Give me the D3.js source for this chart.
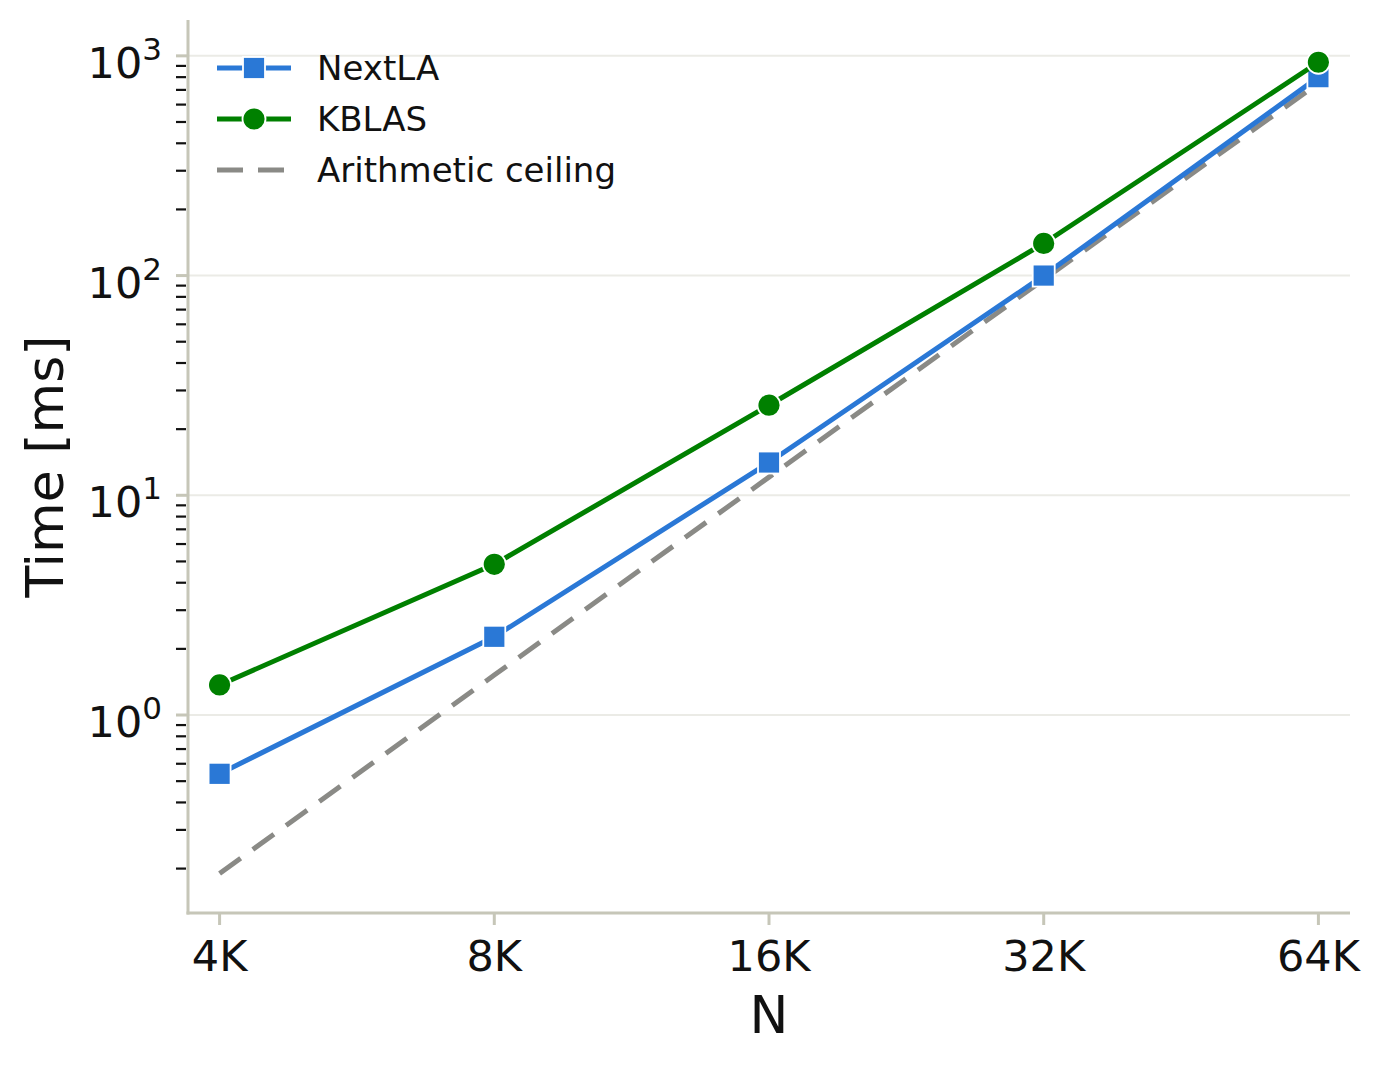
<!DOCTYPE html>
<html>
<head>
<meta charset="utf-8">
<script src="https://cdn.jsdelivr.net/npm/d3@7"></script>
<style>
  html, body { margin: 0; padding: 0; background: #fff; }
  svg { display: block; font-family: "DejaVu Sans", sans-serif; }
</style>
</head>
<body>
<div id="chart"></div>
<script>
// ── Data ──────────────────────────────────────────────────
const sizes     = ["4K", "8K", "16K", "32K", "64K"];
const nextla    = [0.54, 2.27, 14.1, 100, 800];
const kblas     = [1.37, 4.85, 25.7, 140, 935];
const ceiling   = [0.19, 1.52, 12.1, 96, 750];
const yDecades  = [0, 1, 2, 3];

const series = [
  { name: "Arithmetic ceiling", values: ceiling, color: "#8a8a86", dash: "26,15", marker: null },
  { name: "NextLA",             values: nextla,  color: "#2a78d6", dash: null,    marker: "square" },
  { name: "KBLAS",              values: kblas,   color: "#008000", dash: null,    marker: "circle" },
];
const legendOrder = ["NextLA", "KBLAS", "Arithmetic ceiling"];

// ── Layout ────────────────────────────────────────────────
const W = 1383, H = 1069;
const PLOT = { left: 188, right: 1350, top: 20, bottom: 913 };
const SPINE = "#c6c6b8";
const GRID  = "#ebebe6";
const LW    = 5;

const x = d3.scalePoint().domain(sizes).range([PLOT.left, PLOT.right]).padding(0.115);
const y = d3.scaleLog().domain([0.1269, 1456]).range([PLOT.bottom - 1, PLOT.top]);

const svg = d3.select("#chart").append("svg").attr("width", W).attr("height", H);

// Grid lines at decades
svg.append("g").selectAll("line").data(yDecades).join("line")
  .attr("x1", PLOT.left).attr("x2", PLOT.right)
  .attr("y1", d => y(10 ** d)).attr("y2", d => y(10 ** d))
  .attr("stroke", GRID).attr("stroke-width", 2);

// Minor y ticks
const minors = [];
for (let e = -1; e <= 3; e++) for (let m = 2; m <= 9; m++) {
  const v = m * 10 ** e;
  if (v >= y.domain()[0] && v <= y.domain()[1]) minors.push(v);
}
svg.append("g").selectAll("line").data(minors).join("line")
  .attr("x1", PLOT.left - 12).attr("x2", PLOT.left - 2)
  .attr("y1", d => y(d)).attr("y2", d => y(d))
  .attr("stroke", "#111").attr("stroke-width", 2.2);

// Major y ticks + labels
svg.append("g").selectAll("line").data(yDecades).join("line")
  .attr("x1", PLOT.left - 12).attr("x2", PLOT.left)
  .attr("y1", d => y(10 ** d)).attr("y2", d => y(10 ** d))
  .attr("stroke", SPINE).attr("stroke-width", 3);

const yl = svg.append("g").selectAll("text").data(yDecades).join("text")
  .attr("x", 162).attr("y", d => y(10 ** d) + 22)
  .attr("text-anchor", "end").attr("font-size", 43).attr("fill", "#111");
yl.append("tspan").text("10");
yl.append("tspan").attr("font-size", 31).attr("dy", -18).text(d => d);

// X ticks + labels
svg.append("g").selectAll("line").data(sizes).join("line")
  .attr("x1", d => x(d)).attr("x2", d => x(d))
  .attr("y1", PLOT.bottom).attr("y2", PLOT.bottom + 12)
  .attr("stroke", SPINE).attr("stroke-width", 3);
svg.append("g").selectAll("text").data(sizes).join("text")
  .attr("x", d => x(d)).attr("y", 971)
  .attr("text-anchor", "middle").attr("font-size", 43).attr("fill", "#111")
  .text(d => d);

// Spines
svg.append("line").attr("x1", PLOT.left).attr("x2", PLOT.left)
  .attr("y1", PLOT.top).attr("y2", PLOT.bottom + 1.5)
  .attr("stroke", SPINE).attr("stroke-width", 3);
svg.append("line").attr("x1", PLOT.left - 1.5).attr("x2", PLOT.right)
  .attr("y1", PLOT.bottom).attr("y2", PLOT.bottom)
  .attr("stroke", SPINE).attr("stroke-width", 3);

// Axis titles
svg.append("text").attr("x", x("16K")).attr("y", 1033)
  .attr("text-anchor", "middle").attr("font-size", 52).attr("fill", "#111").text("N");
svg.append("text").attr("transform", `translate(63,${(PLOT.top + PLOT.bottom) / 2}) rotate(-90)`)
  .attr("text-anchor", "middle").attr("font-size", 52).attr("fill", "#111").text("Time [ms]");

// ── Series ────────────────────────────────────────────────
function drawMarker(g, type, cx, cy, color) {
  if (type === "square") {
    g.append("rect").attr("x", cx - 11).attr("y", cy - 11).attr("width", 22).attr("height", 22)
      .attr("fill", color).attr("stroke", "#fff").attr("stroke-width", 1.8);
  } else if (type === "circle") {
    g.append("circle").attr("cx", cx).attr("cy", cy).attr("r", 11.5)
      .attr("fill", color).attr("stroke", "#fff").attr("stroke-width", 1.8);
  }
}

const line = d3.line().x(d => x(d.k)).y(d => y(d.v));
series.forEach(s => {
  const pts = sizes.map((k, i) => ({ k, v: s.values[i] }));
  const g = svg.append("g");
  g.append("path").datum(pts).attr("d", line)
    .attr("fill", "none").attr("stroke", s.color).attr("stroke-width", LW)
    .attr("stroke-dasharray", s.dash);
  if (s.marker) pts.forEach(p => drawMarker(g, s.marker, x(p.k), y(p.v), s.color));
});

// ── Legend ────────────────────────────────────────────────
const lg = svg.append("g");
legendOrder.forEach((name, i) => {
  const s = series.find(d => d.name === name);
  const ly = 68 + i * 51;
  lg.append("line").attr("x1", 217).attr("x2", 291).attr("y1", ly).attr("y2", ly)
    .attr("stroke", s.color).attr("stroke-width", LW)
    .attr("stroke-dasharray", s.dash);
  if (s.marker) drawMarker(lg, s.marker, 254, ly, s.color);
  lg.append("text").attr("x", 317).attr("y", ly + 12)
    .attr("font-size", 34).attr("fill", "#111").text(name);
});
</script>
</body>
</html>
